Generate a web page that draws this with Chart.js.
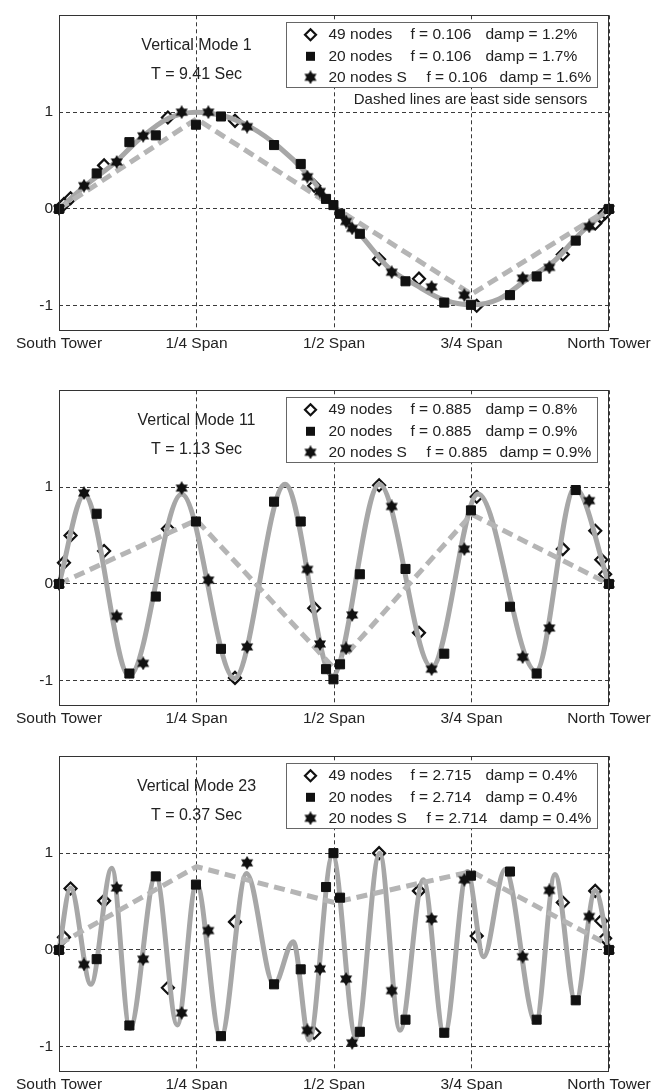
<!DOCTYPE html>
<html>
<head>
<meta charset="utf-8">
<script src="https://cdn.jsdelivr.net/npm/chart.js@4/dist/chart.umd.min.js"></script>
<style>
  html, body { margin: 0; padding: 0; background: #fff; width: 665px; height: 1090px; overflow: hidden; }
  canvas { position: absolute; left: 0; }
</style>
</head>
<body>
<canvas id="mode1"></canvas>
<canvas id="mode11"></canvas>
<canvas id="mode23"></canvas>
<script>
// ---- axis ticks ----
const spanTicks = [0, 0.25, 0.5, 0.75, 1];
const spanLabels = ['South Tower', '1/4 Span', '1/2 Span', '3/4 Span', 'North Tower'];
const ampTicks = [-1, 0, 1];

// ---- sensor positions along the span (fraction of main span) ----
const eastX = [0, 0.25, 0.5, 0.75, 1];
const nodes49X = [0.009, 0.021, 0.082, 0.198, 0.32, 0.464, 0.582, 0.6545, 0.7595, 0.916, 0.975, 0.986, 0.993];
const nodes20X = [0, 0.0685, 0.128, 0.176, 0.249, 0.2945, 0.391, 0.4395, 0.4855, 0.499, 0.511, 0.547, 0.63, 0.7005, 0.749, 0.82, 0.8685, 0.9395, 1];
const nodes20SX = [0, 0.0455, 0.105, 0.153, 0.223, 0.2715, 0.342, 0.4515, 0.4745, 0.522, 0.533, 0.605, 0.6775, 0.737, 0.843, 0.8915, 0.964, 1];

// ---- Vertical Mode 1 ----
const mode1CurveX = [0, 0.05, 0.1, 0.15, 0.2, 0.25, 0.3, 0.35, 0.4, 0.45, 0.5, 0.55, 0.6, 0.65, 0.7, 0.75, 0.8, 0.85, 0.9, 0.95, 1];
const mode1CurveY = [0, 0.25, 0.47, 0.74, 0.94, 1.0, 0.96, 0.84, 0.64, 0.37, 0.02, -0.28, -0.61, -0.79, -0.94, -0.99, -0.93, -0.73, -0.54, -0.24, 0];
const mode1EastY = [0, 0.93, 0.02, -0.88, 0];
const mode1Nodes49Y = [0.05, 0.11, 0.45, 0.945, 0.91, 0.24, -0.52, -0.72, -1.0, -0.47, -0.15, -0.08, -0.04];
const mode1Nodes20Y = [0, 0.367, 0.69, 0.76, 0.87, 0.955, 0.66, 0.465, 0.104, 0.04, -0.05, -0.256, -0.747, -0.967, -0.99, -0.89, -0.697, -0.327, 0];
const mode1Nodes20SY = [0, 0.24, 0.485, 0.755, 1.0, 1.0, 0.85, 0.333, 0.18, -0.13, -0.2, -0.653, -0.805, -0.89, -0.714, -0.603, -0.18, 0];

// ---- Vertical Mode 11 ----
const mode11CurveX = [0, 0.046, 0.128, 0.223, 0.319, 0.411, 0.497, 0.5825, 0.6775, 0.762, 0.867, 0.938, 1];
const mode11CurveY = [0, 0.92, -0.95, 0.93, -0.975, 1.03, -0.95, 1.03, -0.86, 0.93, -0.9, 0.99, 0];
const mode11EastY = [0, 0.66, -0.87, 0.72, 0];
const mode11Nodes49Y = [0.22, 0.5, 0.34, 0.57, -0.97, -0.25, 1.02, -0.505, 0.9, 0.36, 0.55, 0.25, 0.1];
const mode11Nodes20Y = [0, 0.725, -0.925, -0.13, 0.645, -0.67, 0.85, 0.645, -0.88, -0.985, -0.83, 0.1, 0.155, -0.72, 0.76, -0.235, -0.925, 0.97, 0];
const mode11Nodes20SY = [0, 0.94, -0.334, -0.82, 0.99, 0.04, -0.65, 0.15, -0.62, -0.665, -0.32, 0.8, -0.88, 0.36, -0.755, -0.455, 0.86, 0];

// ---- Vertical Mode 23 ----
const mode23CurveX = [0, 0.021, 0.058, 0.096, 0.129, 0.176, 0.215, 0.25, 0.294, 0.341, 0.391, 0.426, 0.455, 0.4975, 0.54, 0.583, 0.62, 0.6625, 0.7005, 0.7425, 0.772, 0.811, 0.867, 0.9018, 0.9395, 0.975, 1];
const mode23CurveY = [0, 0.64, -0.355, 0.845, -0.81, 0.77, -0.775, 0.69, -0.91, 0.79, -0.36, 0.085, -0.93, 0.98, -0.905, 1.0, -0.83, 0.725, -0.88, 0.81, -0.07, 0.83, -0.745, 0.78, -0.54, 0.615, 0];
const mode23EastY = [0.06, 0.86, 0.49, 0.81, 0.05];
const mode23Nodes49Y = [0.13, 0.635, 0.507, -0.39, 0.29, -0.855, 1.0, 0.61, 0.145, 0.49, 0.61, 0.3, 0.12];
const mode23Nodes20Y = [0, -0.095, -0.78, 0.76, 0.675, -0.89, -0.355, -0.2, 0.65, 1.0, 0.54, -0.845, -0.72, -0.855, 0.767, 0.81, -0.72, -0.52, 0];
const mode23Nodes20SY = [0, -0.15, 0.64, -0.095, -0.65, 0.2, 0.9, -0.83, -0.195, -0.3, -0.96, -0.42, 0.32, 0.725, -0.07, 0.615, 0.345, 0];

// ---- identification results ----
const modeTitles = ['Vertical Mode 1', 'Vertical Mode 11', 'Vertical Mode 23'];
const modePeriods = ['9.41', '1.13', '0.37'];
const seriesNames = ['49 nodes', '20 nodes', '20 nodes S'];
const freq49 = ['0.106', '0.885', '2.715'];
const freq20 = ['0.106', '0.885', '2.714'];
const freq20S = ['0.106', '0.885', '2.714'];
const damp49 = ['1.2', '0.8', '0.4'];
const damp20 = ['1.7', '0.9', '0.4'];
const damp20S = ['1.6', '0.9', '0.4'];
const noteText = 'Dashed lines are east side sensors';

// ---- drawing ----
const FONT = '"Liberation Sans", Arial, Helvetica, sans-serif';
const INK = '#111';
const TEXT = '#222';

function zip(xs, ys) { return xs.map((x, i) => ({ x: x, y: ys[i] })); }

// six-pointed star marker
function hexagram(size, color) {
  const c = document.createElement('canvas');
  c.width = size; c.height = size;
  const g = c.getContext('2d');
  const r = size / 2;
  g.fillStyle = color;
  [-Math.PI / 2, Math.PI / 2].forEach(off => {
    g.beginPath();
    for (let k = 0; k < 3; k++) {
      const a = off + k * 2 * Math.PI / 3;
      const px = r + r * Math.cos(a), py = r + r * Math.sin(a);
      if (k) g.lineTo(px, py); else g.moveTo(px, py);
    }
    g.closePath();
    g.fill();
  });
  return c;
}
const STAR = hexagram(14, INK);

function drawDiamond(ctx, x, y, r) {
  ctx.beginPath();
  ctx.moveTo(x, y - r); ctx.lineTo(x + r, y); ctx.lineTo(x, y + r); ctx.lineTo(x - r, y);
  ctx.closePath();
  ctx.fillStyle = '#fff'; ctx.fill();
  ctx.lineWidth = 2.2; ctx.strokeStyle = INK; ctx.stroke();
}

function panelDecor(idx) {
  return {
    id: 'panelDecor',
    afterDatasetsDraw(chart) {
      const ctx = chart.ctx, a = chart.chartArea, xs = chart.scales.x;
      ctx.save();
      // axes box
      ctx.strokeStyle = '#333';
      ctx.lineWidth = 1;
      ctx.strokeRect(Math.round(a.left) + 0.5, Math.round(a.top) + 0.5,
                     Math.round(a.right - a.left) - 1, Math.round(a.bottom - a.top));
      // mode title and period
      const cx = xs.getPixelForValue(0.25);
      ctx.fillStyle = TEXT;
      ctx.font = '16px ' + FONT;
      ctx.textAlign = 'center';
      ctx.textBaseline = 'middle';
      ctx.fillText(modeTitles[idx], cx, a.top + 30);
      ctx.fillText('T = ' + modePeriods[idx] + ' Sec', cx, a.top + 59);

      // legend box
      const bl = Math.round(a.left + 227) + 0.5, br = Math.round(a.right - 12) + 0.5;
      const bt = Math.round(a.top + 7) + 0.5, bh = 65;
      ctx.fillStyle = '#fff';
      ctx.fillRect(bl, bt, br - bl, bh);
      ctx.strokeStyle = '#666';
      ctx.lineWidth = 1;
      ctx.strokeRect(bl, bt, br - bl, bh);

      const rows = [
        [seriesNames[0], freq49[idx], damp49[idx]],
        [seriesNames[1], freq20[idx], damp20[idx]],
        [seriesNames[2], freq20S[idx], damp20S[idx]]
      ];
      const rowY = [a.top + 19.5, a.top + 41, a.top + 62];
      const mx = bl + 24;
      ctx.font = '15.5px ' + FONT;
      ctx.textAlign = 'left';
      ctx.textBaseline = 'middle';
      rows.forEach((r, i) => {
        const y = rowY[i];
        if (i === 0) drawDiamond(ctx, mx, y, 5.5);
        else if (i === 1) { ctx.fillStyle = INK; ctx.fillRect(mx - 4.5, y - 4.5, 9, 9); }
        else ctx.drawImage(STAR, mx - STAR.width / 2, y - STAR.height / 2);
        ctx.fillStyle = TEXT;
        ctx.fillText(r[0], bl + 42, y);
        const fx = i === 2 ? bl + 140 : bl + 124;
        const dx = i === 2 ? bl + 213 : bl + 199;
        ctx.fillText('f = ' + r[1], fx, y);
        ctx.fillText('damp = ' + r[2] + '%', dx, y);
      });

      if (idx === 0) {
        ctx.font = '15px ' + FONT;
        ctx.textAlign = 'center';
        ctx.fillStyle = TEXT;
        ctx.fillText(noteText, xs.getPixelForValue(0.75) - 1, a.top + 85);
      }
      ctx.restore();
    }
  };
}

function makePanel(id, idx, top, axisH, m) {
  const canvas = document.getElementById(id);
  const H = 8 + 322 + axisH;
  canvas.width = 665; canvas.height = H;
  canvas.style.width = '665px'; canvas.style.height = H + 'px';
  canvas.style.top = (top - 8) + 'px';
  const tickFont = { family: FONT, size: 15.5 };
  return new Chart(canvas, {
    type: 'line',
    data: {
      datasets: [
        // 49-node markers sit underneath the mode-shape curve
        { label: seriesNames[0], data: zip(nodes49X, m.n49), showLine: false, pointStyle: 'rectRot',
          pointRadius: 6, pointBackgroundColor: '#fff', pointBorderColor: INK, pointBorderWidth: 2.2, order: 5, clip: false },
        { label: 'mode shape', data: zip(m.curveX, m.curveY), borderColor: '#a7a7a7', borderWidth: 5,
          pointRadius: 0, cubicInterpolationMode: 'monotone', borderJoinStyle: 'round', order: 4, clip: false },
        { label: 'east side', data: zip(eastX, m.eastY), borderColor: '#b5b5b5', borderWidth: 5,
          borderDash: [11, 6], pointRadius: 0, tension: 0, order: 3, clip: false },
        { label: seriesNames[1], data: zip(nodes20X, m.n20), showLine: false, pointStyle: 'rect',
          pointRadius: 6.4, pointBackgroundColor: INK, pointBorderColor: INK, pointBorderWidth: 1, order: 1, clip: false },
        { label: seriesNames[2], data: zip(nodes20SX, m.n20S), showLine: false, pointStyle: STAR,
          pointRadius: 7, order: 0, clip: false }
      ]
    },
    options: {
      responsive: false,
      animation: false,
      devicePixelRatio: 1,
      events: [],
      layout: { padding: { top: 8, right: 56, left: 0, bottom: 0 } },
      plugins: { legend: { display: false }, tooltip: { enabled: false } },
      scales: {
        x: {
          type: 'linear', min: 0, max: 1,
          afterBuildTicks: s => { s.ticks = spanTicks.map(v => ({ value: v })); },
          afterFit: s => { s.height = axisH; },
          ticks: { autoSkip: false, maxRotation: 0, padding: 4, color: TEXT, font: tickFont,
                   callback: v => spanLabels[spanTicks.indexOf(v)] },
          grid: { color: '#3a3a3a', lineWidth: 1, drawTicks: false },
          border: { display: false, dash: [4, 3] }
        },
        y: {
          min: -1.25, max: 2,
          afterBuildTicks: s => { s.ticks = ampTicks.map(v => ({ value: v })); },
          afterFit: s => { s.width = 59; },
          ticks: { padding: 6, color: TEXT, font: tickFont, callback: v => String(v) },
          grid: { color: '#3a3a3a', lineWidth: 1, drawTicks: false },
          border: { display: false, dash: [4, 3] }
        }
      }
    },
    plugins: [panelDecor(idx)]
  });
}

makePanel('mode1', 0, 8, 30, {
  curveX: mode1CurveX, curveY: mode1CurveY, eastY: mode1EastY,
  n49: mode1Nodes49Y, n20: mode1Nodes20Y, n20S: mode1Nodes20SY
});
makePanel('mode11', 1, 383, 30, {
  curveX: mode11CurveX, curveY: mode11CurveY, eastY: mode11EastY,
  n49: mode11Nodes49Y, n20: mode11Nodes20Y, n20S: mode11Nodes20SY
});
makePanel('mode23', 2, 749, 19, {
  curveX: mode23CurveX, curveY: mode23CurveY, eastY: mode23EastY,
  n49: mode23Nodes49Y, n20: mode23Nodes20Y, n20S: mode23Nodes20SY
});
</script>
</body>
</html>
